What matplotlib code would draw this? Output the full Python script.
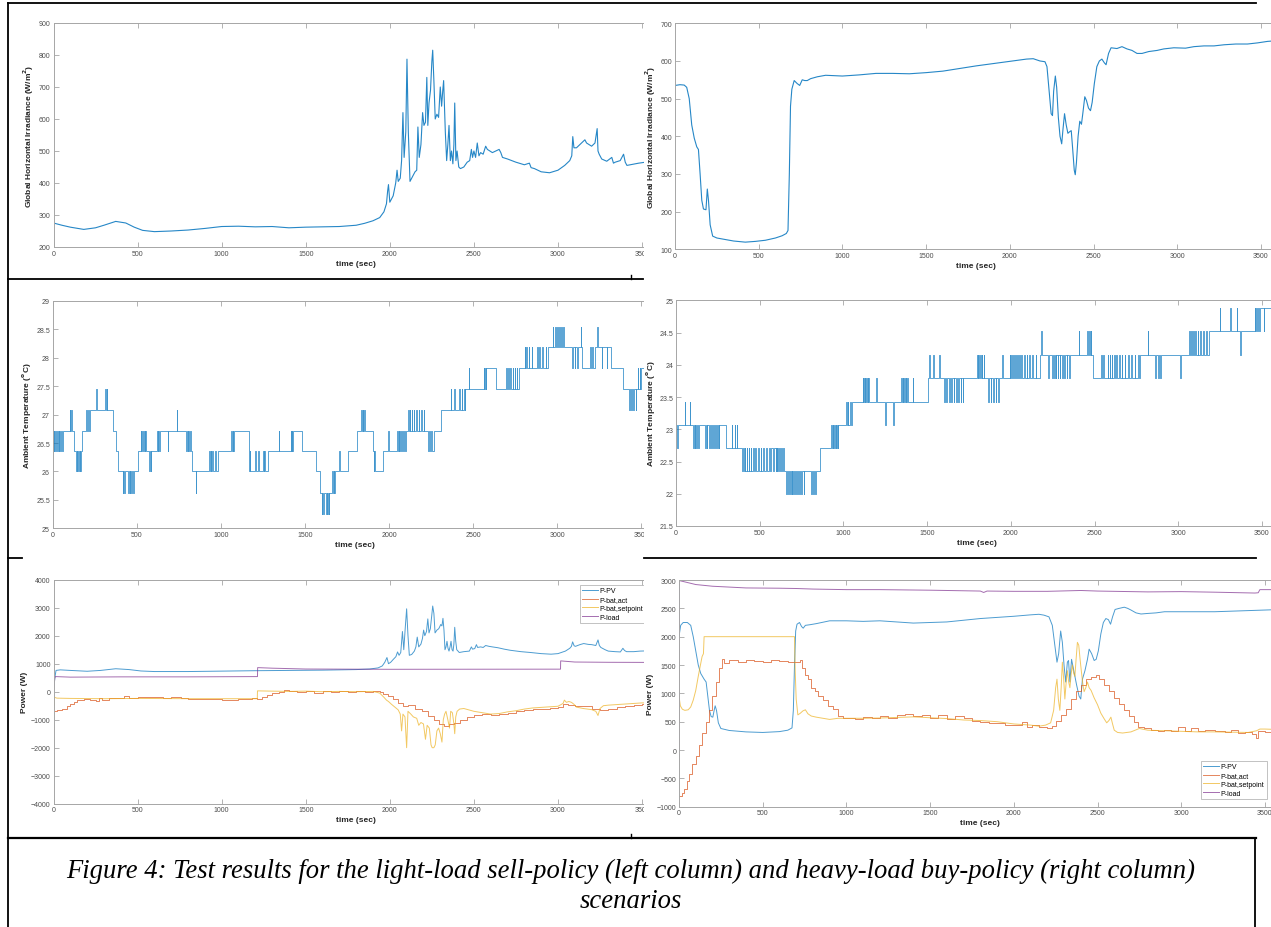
import matplotlib
matplotlib.use("Agg")
import matplotlib.pyplot as plt
from matplotlib.patches import Rectangle
from matplotlib.lines import Line2D
from matplotlib.ticker import StrMethodFormatter

# ---- data: (time s, value) ----
irr_left = [(0, 275), (50, 268), (100, 262), (180, 255), (250, 260), (300, 268), (370, 280), (430, 275),
            (480, 262), (530, 252), (600, 248), (700, 250), (800, 253), (900, 258), (1000, 264), (1100, 265),
            (1200, 263), (1300, 264), (1400, 260), (1500, 262), (1600, 263), (1700, 264), (1800, 268),
            (1850, 274), (1900, 282), (1940, 292), (1965, 310), (1980, 335), (1987, 375), (1992, 395),
            (2000, 340), (2020, 360), (2035, 400), (2043, 440), (2050, 405), (2062, 415), (2070, 470),
            (2078, 620), (2085, 480), (2095, 560), (2102, 787), (2110, 560), (2120, 405), (2135, 420),
            (2150, 435), (2160, 440), (2167, 575), (2175, 480), (2185, 520), (2195, 620), (2203, 580),
            (2212, 590), (2220, 730), (2226, 580), (2233, 650), (2242, 690), (2250, 780), (2255, 815),
            (2262, 720), (2270, 600), (2280, 615), (2290, 605), (2300, 700), (2308, 640), (2315, 690),
            (2320, 720), (2330, 560), (2338, 470), (2345, 520), (2352, 580), (2360, 470), (2367, 500),
            (2375, 460), (2381, 520), (2386, 650), (2393, 470), (2400, 500), (2410, 450), (2420, 445),
            (2440, 450), (2460, 465), (2475, 470), (2485, 505), (2492, 480), (2500, 500), (2510, 480),
            (2520, 525), (2530, 485), (2540, 495), (2555, 490), (2570, 515), (2580, 505), (2595, 500),
            (2610, 495), (2630, 500), (2650, 505), (2660, 495), (2670, 480), (2700, 475), (2750, 465),
            (2800, 457), (2830, 462), (2840, 448), (2860, 445), (2900, 435), (2950, 432), (3000, 440),
            (3040, 455), (3070, 470), (3082, 485), (3088, 545), (3095, 510), (3110, 510), (3140, 525),
            (3160, 535), (3170, 525), (3185, 520), (3200, 515), (3220, 525), (3233, 570), (3238, 500),
            (3245, 490), (3260, 475), (3290, 468), (3320, 480), (3330, 462), (3340, 465), (3370, 470),
            (3390, 490), (3400, 465), (3410, 455), (3440, 458), (3480, 462), (3520, 465), (3600, 468)]

irr_right = [(0, 535), (30, 537), (55, 536), (70, 530), (85, 500), (100, 430), (115, 395), (130, 372),
             (140, 365), (150, 300), (160, 230), (170, 207), (185, 205), (193, 260), (200, 230), (210, 165),
             (225, 135), (250, 130), (300, 126), (350, 122), (420, 119), (480, 121), (540, 124), (600, 130),
             (640, 136), (665, 142), (675, 150), (683, 300), (690, 480), (698, 525), (712, 548), (730, 540),
             (745, 535), (760, 550), (775, 548), (790, 548), (810, 553), (850, 558), (900, 562), (1000, 560),
             (1100, 563), (1200, 567), (1300, 567), (1400, 566), (1500, 569), (1600, 573), (1700, 580),
             (1800, 587), (1900, 593), (2000, 599), (2100, 605), (2140, 606), (2180, 600), (2210, 598),
             (2222, 585), (2235, 520), (2247, 460), (2255, 455), (2262, 520), (2272, 560), (2280, 530),
             (2290, 450), (2300, 400), (2310, 380), (2318, 420), (2327, 460), (2337, 430), (2347, 408),
             (2357, 412), (2367, 415), (2375, 370), (2385, 310), (2391, 298), (2398, 330), (2408, 400),
             (2418, 440), (2428, 432), (2436, 460), (2448, 505), (2458, 495), (2470, 475), (2482, 468),
             (2492, 490), (2505, 540), (2520, 585), (2535, 600), (2550, 605), (2565, 595), (2575, 590),
             (2590, 620), (2605, 635), (2640, 633), (2670, 638), (2700, 632), (2730, 628), (2760, 620),
             (2790, 620), (2830, 625), (2880, 628), (2920, 632), (2980, 635), (3050, 634), (3100, 638),
             (3160, 640), (3220, 640), (3280, 643), (3350, 645), (3420, 645), (3480, 648), (3540, 652),
             (3600, 654)]

# temperature: quantised sensor levels and (switch time, level index) pairs
temp_levels_left = [25.26, 25.63, 26.0, 26.36, 26.72, 27.09, 27.45, 27.82, 28.19, 28.55]
temp_left = [(0, 4), (5, 3), (10, 4), (14, 3), (20, 4), (24, 3), (30, 4), (36, 3), (40, 4), (45, 3), (50, 4),
             (55, 3), (60, 4), (100, 5), (104, 4), (108, 5), (112, 4), (125, 3), (140, 2), (143, 3), (147, 2),
             (152, 3), (156, 2), (160, 3), (165, 2), (168, 3), (175, 4), (200, 5), (203, 4), (210, 5), (214, 4),
             (222, 5), (258, 6), (261, 5), (312, 6), (316, 5), (320, 6), (324, 5), (356, 4), (378, 3), (390, 2),
             (418, 1), (421, 2), (425, 1), (429, 2), (450, 1), (453, 2), (458, 1), (462, 2), (468, 1), (472, 2),
             (478, 1), (482, 2), (505, 3), (525, 4), (528, 3), (532, 4), (537, 3), (541, 4), (546, 3), (550, 4),
             (554, 3), (574, 2), (578, 3), (582, 2), (586, 3), (620, 4), (624, 3), (628, 4), (632, 3), (636, 4),
             (684, 3), (687, 4), (738, 5), (741, 4), (795, 3), (799, 4), (803, 3), (807, 4), (811, 3), (815, 4),
             (820, 3), (830, 2), (850, 1), (853, 2), (930, 3), (934, 2), (940, 3), (944, 2), (950, 3), (955, 2),
             (965, 3), (970, 2), (985, 3), (1063, 4), (1066, 3), (1070, 4), (1073, 3), (1077, 4), (1165, 3),
             (1168, 2), (1171, 3), (1175, 2), (1204, 3), (1207, 2), (1222, 3), (1226, 2), (1250, 3), (1254, 2),
             (1258, 3), (1262, 2), (1283, 3), (1344, 4), (1347, 3), (1415, 4), (1418, 3), (1422, 4), (1425, 3),
             (1429, 4), (1485, 3), (1563, 2), (1588, 1), (1600, 0), (1604, 1), (1607, 0), (1611, 1), (1625, 0),
             (1629, 1), (1633, 0), (1637, 1), (1641, 0), (1645, 1), (1660, 2), (1664, 1), (1670, 2), (1674, 1),
             (1680, 2), (1704, 3), (1707, 2), (1758, 3), (1807, 4), (1836, 5), (1840, 4), (1844, 5), (1848, 4),
             (1852, 5), (1855, 4), (1905, 3), (1908, 2), (1912, 3), (1916, 2), (1966, 3), (1995, 4), (1998, 3),
             (2050, 4), (2054, 3), (2058, 4), (2062, 3), (2066, 4), (2072, 3), (2078, 4), (2084, 3), (2090, 4),
             (2095, 3), (2100, 4), (2112, 5), (2116, 4), (2122, 5), (2126, 4), (2134, 5), (2138, 4), (2146, 5),
             (2150, 4), (2162, 5), (2166, 4), (2176, 5), (2180, 4), (2192, 5), (2196, 4), (2206, 5), (2210, 4),
             (2234, 3), (2240, 4), (2246, 3), (2252, 4), (2258, 3), (2266, 4), (2307, 5), (2368, 6), (2371, 5),
             (2388, 6), (2392, 5), (2418, 6), (2422, 5), (2432, 6), (2436, 5), (2446, 6), (2450, 5), (2454, 6),
             (2473, 7), (2476, 6), (2563, 7), (2567, 6), (2571, 7), (2575, 6), (2579, 7), (2637, 6), (2698, 7),
             (2702, 6), (2708, 7), (2712, 6), (2720, 7), (2724, 6), (2735, 7), (2740, 6), (2748, 7), (2752, 6),
             (2760, 7), (2764, 6), (2771, 7), (2807, 8), (2811, 7), (2817, 8), (2821, 7), (2830, 8), (2834, 7),
             (2848, 8), (2852, 7), (2880, 8), (2884, 7), (2892, 8), (2896, 7), (2910, 8), (2914, 7), (2932, 8),
             (2936, 7), (2944, 8), (2973, 9), (2977, 8), (2990, 9), (2994, 8), (3000, 9), (3004, 8), (3010, 9),
             (3014, 8), (3022, 9), (3026, 8), (3034, 9), (3038, 8), (3090, 7), (3094, 8), (3104, 7), (3108, 8),
             (3120, 7), (3124, 8), (3141, 9), (3144, 8), (3149, 7), (3197, 8), (3201, 7), (3210, 8), (3214, 7),
             (3222, 8), (3239, 9), (3242, 8), (3265, 7), (3268, 8), (3295, 7), (3299, 8), (3318, 7), (3392, 6),
             (3429, 5), (3433, 6), (3440, 5), (3444, 6), (3452, 5), (3458, 6), (3466, 5), (3470, 6), (3478, 7),
             (3482, 6), (3490, 7), (3494, 6), (3500, 7), (3600, 7)]

temp_levels_right = [21.99, 22.35, 22.71, 23.07, 23.43, 23.79, 24.15, 24.52, 24.88]
temp_right = [(0, 3), (8, 2), (12, 3), (52, 4), (56, 3), (81, 4), (85, 3), (102, 2), (106, 3), (111, 2), (116, 3),
              (122, 2), (127, 3), (132, 2), (135, 3), (176, 2), (180, 3), (184, 2), (188, 3), (200, 2), (204, 3),
              (210, 2), (214, 3), (222, 2), (226, 3), (234, 2), (238, 3), (245, 2), (249, 3), (254, 2), (258, 3),
              (298, 2), (334, 3), (337, 2), (350, 3), (354, 2), (362, 3), (366, 2), (395, 1), (400, 2), (404, 1),
              (410, 2), (414, 1), (422, 2), (426, 1), (434, 2), (438, 1), (446, 2), (450, 1), (460, 2), (464, 1),
              (474, 2), (478, 1), (490, 2), (495, 1), (505, 2), (510, 1), (522, 2), (527, 1), (540, 2), (545, 1),
              (556, 2), (560, 1), (566, 2), (582, 1), (585, 2), (596, 1), (599, 2), (602, 1), (606, 2), (610, 1),
              (616, 2), (620, 1), (628, 2), (632, 1), (640, 2), (644, 1), (660, 0), (664, 1), (670, 0), (674, 1),
              (680, 0), (684, 1), (690, 0), (694, 1), (700, 0), (704, 1), (712, 0), (716, 1), (724, 0), (728, 1),
              (736, 0), (740, 1), (748, 0), (752, 1), (762, 0), (766, 1), (808, 0), (812, 1), (818, 0), (822, 1),
              (830, 0), (836, 1), (858, 2), (927, 3), (930, 2), (935, 3), (939, 2), (944, 3), (948, 2), (953, 3),
              (957, 2), (962, 3), (966, 2), (970, 3), (1017, 4), (1020, 3), (1026, 4), (1030, 3), (1040, 4),
              (1044, 3), (1052, 4), (1115, 5), (1119, 4), (1123, 5), (1127, 4), (1131, 5), (1135, 4), (1140, 5),
              (1144, 4), (1148, 5), (1151, 4), (1195, 5), (1198, 4), (1249, 3), (1253, 4), (1296, 3), (1300, 4),
              (1346, 5), (1350, 4), (1354, 5), (1358, 4), (1362, 5), (1366, 4), (1371, 5), (1375, 4), (1379, 5),
              (1383, 4), (1413, 5), (1417, 4), (1505, 5), (1514, 6), (1517, 5), (1537, 6), (1540, 5), (1572, 6),
              (1575, 5), (1602, 4), (1606, 5), (1614, 4), (1618, 5), (1630, 4), (1634, 5), (1644, 4), (1648, 5),
              (1658, 4), (1662, 5), (1672, 4), (1676, 5), (1686, 4), (1690, 5), (1700, 4), (1704, 5), (1712, 4),
              (1716, 5), (1798, 6), (1802, 5), (1806, 6), (1810, 5), (1816, 6), (1820, 5), (1826, 6), (1830, 5),
              (1838, 6), (1842, 5), (1866, 4), (1870, 5), (1880, 4), (1884, 5), (1894, 4), (1898, 5), (1910, 4),
              (1914, 5), (1925, 4), (1929, 5), (1949, 6), (1952, 5), (1993, 6), (1998, 5), (2004, 6), (2008, 5),
              (2014, 6), (2018, 5), (2026, 6), (2030, 5), (2038, 6), (2042, 5), (2050, 6), (2054, 5), (2062, 6),
              (2066, 5), (2078, 6), (2082, 5), (2094, 6), (2098, 5), (2110, 6), (2114, 5), (2128, 6), (2132, 5),
              (2148, 6), (2152, 5), (2175, 6), (2183, 7), (2186, 6), (2224, 5), (2227, 6), (2248, 5), (2252, 6),
              (2258, 5), (2262, 6), (2268, 5), (2272, 6), (2280, 5), (2284, 6), (2292, 5), (2296, 6), (2306, 5),
              (2310, 6), (2320, 5), (2324, 6), (2334, 5), (2338, 6), (2350, 5), (2354, 6), (2407, 7), (2410, 6),
              (2456, 7), (2459, 6), (2468, 7), (2471, 6), (2478, 7), (2481, 6), (2493, 5), (2540, 6), (2544, 5),
              (2552, 6), (2556, 5), (2578, 6), (2582, 5), (2590, 6), (2594, 5), (2602, 6), (2606, 5), (2616, 6),
              (2620, 5), (2630, 6), (2634, 5), (2646, 6), (2650, 5), (2662, 6), (2666, 5), (2680, 6), (2684, 5),
              (2700, 6), (2704, 5), (2718, 6), (2722, 5), (2740, 6), (2744, 5), (2760, 6), (2764, 5), (2773, 6),
              (2817, 7), (2820, 6), (2862, 5), (2866, 6), (2880, 5), (2884, 6), (2892, 5), (2896, 6), (3012, 5),
              (3015, 6), (3066, 7), (3070, 6), (3078, 7), (3082, 6), (3090, 7), (3094, 6), (3102, 7), (3106, 6),
              (3116, 7), (3120, 6), (3132, 7), (3136, 6), (3150, 7), (3154, 6), (3168, 7), (3172, 6), (3185, 7),
              (3249, 8), (3252, 7), (3310, 8), (3313, 7), (3351, 8), (3354, 7), (3370, 6), (3373, 7), (3456, 8),
              (3460, 7), (3466, 8), (3470, 7), (3476, 8), (3480, 7), (3486, 8), (3512, 7), (3515, 8), (3600, 8)]

# power, light-load sell-policy
pv_left = [(0, 0), (8, 500), (15, 760), (40, 780), (100, 760), (200, 730), (280, 760), (370, 820), (450, 790),
           (520, 740), (600, 720), (800, 720), (1000, 735), (1200, 750), (1400, 760), (1600, 770), (1800, 790),
           (1880, 810), (1930, 850), (1955, 920), (1970, 1050), (1983, 1220), (1992, 1000), (2005, 1050),
           (2020, 1150), (2036, 1250), (2046, 1420), (2055, 1300), (2065, 1400), (2075, 2150), (2083, 1500),
           (2092, 2300), (2100, 2960), (2108, 2000), (2116, 1300), (2130, 1330), (2146, 1450), (2155, 1600),
           (2163, 1950), (2172, 1600), (2185, 1700), (2194, 1900), (2201, 2200), (2208, 2000), (2218, 2150),
           (2226, 2600), (2233, 2100), (2241, 2250), (2249, 2700), (2255, 3060), (2262, 2800), (2269, 2100),
           (2280, 2200), (2291, 2250), (2303, 2400), (2310, 2350), (2316, 2620), (2322, 2200), (2328, 1500),
           (2334, 1600), (2340, 1800), (2346, 1550), (2352, 1450), (2358, 1600), (2364, 1800), (2370, 1500),
           (2376, 1450), (2381, 1700), (2386, 2300), (2392, 1800), (2398, 1500), (2413, 1400), (2440, 1430),
           (2473, 1450), (2485, 1600), (2492, 1520), (2505, 1540), (2515, 1680), (2522, 1580), (2540, 1600),
           (2555, 1580), (2570, 1650), (2590, 1620), (2610, 1600), (2643, 1570), (2680, 1520), (2716, 1480),
           (2780, 1430), (2837, 1400), (2900, 1360), (2959, 1340), (3000, 1360), (3044, 1450), (3070, 1550),
           (3080, 1620), (3087, 1780), (3096, 1640), (3104, 1620), (3130, 1680), (3153, 1720), (3180, 1690),
           (3201, 1680), (3225, 1650), (3238, 1850), (3246, 1650), (3255, 1580), (3280, 1500), (3299, 1450),
           (3340, 1430), (3371, 1420), (3386, 1550), (3396, 1470), (3408, 1430), (3450, 1430), (3488, 1450),
           (3540, 1460), (3600, 1470)]
act_left = [(0, -700), (20, -660), (50, -600), (80, -520), (100, -440), (120, -350), (140, -290), (180, -260),
            (220, -280), (250, -320), (270, -220), (290, -290), (330, -240), (380, -220), (420, -160), (450, -210),
            (500, -180), (560, -200), (600, -180), (650, -230), (700, -180), (760, -220), (800, -250), (900, -260),
            (1000, -280), (1100, -250), (1180, -220), (1213, -260), (1240, -180), (1270, -120), (1300, -60),
            (1340, -20), (1370, 50), (1400, 20), (1450, -20), (1500, 10), (1550, -30), (1600, 40), (1650, -20),
            (1700, 10), (1750, -10), (1800, 20), (1850, -20), (1900, 10), (1940, -20), (1960, -80), (1990, -150),
            (2020, -250), (2050, -400), (2080, -500), (2110, -480), (2150, -600), (2190, -700), (2230, -850),
            (2260, -1000), (2290, -1150), (2320, -1220), (2350, -1150), (2380, -1100), (2420, -1000),
            (2460, -900), (2500, -820), (2550, -780), (2600, -820), (2650, -790), (2700, -760), (2750, -700),
            (2800, -650), (2850, -620), (2900, -620), (2950, -580), (3000, -560), (3030, -450), (3060, -480),
            (3100, -500), (3150, -520), (3200, -600), (3250, -640), (3300, -600), (3350, -560), (3400, -500),
            (3450, -470), (3500, -450), (3600, -430)]
set_left = [(0, -100), (3, -500), (6, -200), (20, -230), (100, -240), (300, -250), (500, -240), (800, -250),
            (1000, -250), (1212, -250), (1213, 30), (1300, 20), (1400, 10), (1500, 20), (1600, 0), (1700, 10),
            (1800, 0), (1900, 10), (1940, -50), (1965, -200), (1980, -300), (1992, -350), (2010, -450),
            (2030, -550), (2050, -650), (2062, -800), (2070, -1400), (2078, -800), (2090, -900), (2100, -2000),
            (2108, -700), (2125, -800), (2140, -900), (2160, -950), (2172, -1200), (2185, -1100), (2200, -1150),
            (2212, -1700), (2222, -1200), (2235, -1300), (2245, -1900), (2252, -2000), (2262, -2000),
            (2270, -1900), (2280, -1400), (2290, -1300), (2300, -1500), (2310, -1800), (2318, -1000),
            (2326, -800), (2334, -700), (2345, -1000), (2355, -1300), (2362, -700), (2372, -750), (2380, -1100),
            (2386, -1500), (2392, -900), (2400, -700), (2415, -620), (2440, -600), (2470, -650), (2500, -700),
            (2550, -750), (2600, -800), (2650, -780), (2700, -720), (2750, -680), (2800, -620), (2850, -580),
            (2900, -560), (2950, -540), (3000, -520), (3030, -420), (3038, -300), (3050, -380), (3065, -350),
            (3080, -380), (3095, -450), (3110, -550), (3150, -600), (3200, -640), (3225, -700), (3238, -850),
            (3250, -600), (3270, -500), (3300, -480), (3350, -460), (3400, -440), (3450, -420), (3500, -400),
            (3600, -400)]
load_left = [(0, 0), (8, 500), (12, 540), (100, 520), (400, 530), (800, 530), (1213, 540), (1214, 860),
             (1300, 840), (1500, 810), (2000, 800), (3015, 805), (3016, 1100), (3100, 1060), (3300, 1050),
             (3600, 1045)]

# power, heavy-load buy-policy
pv_right = [(0, 2000), (10, 2200), (25, 2250), (50, 2250), (70, 2200), (85, 2000), (100, 1750), (115, 1500),
            (130, 1350), (150, 1250), (162, 1200), (172, 950), (182, 700), (192, 590), (202, 580), (210, 700),
            (216, 780), (224, 700), (235, 480), (250, 380), (300, 345), (400, 320), (500, 310), (600, 325),
            (650, 350), (675, 390), (683, 700), (690, 1500), (697, 2100), (705, 2220), (720, 2250), (732, 2180),
            (742, 2150), (755, 2200), (780, 2210), (820, 2230), (900, 2280), (1000, 2280), (1100, 2270),
            (1200, 2280), (1300, 2260), (1400, 2240), (1500, 2250), (1600, 2260), (1700, 2290), (1800, 2320),
            (1900, 2340), (2000, 2360), (2100, 2385), (2150, 2395), (2180, 2380), (2210, 2350), (2230, 2200),
            (2245, 1850), (2258, 1550), (2268, 1700), (2280, 2100), (2290, 1900), (2300, 1500), (2310, 1200),
            (2320, 1550), (2327, 1580), (2335, 1200), (2345, 1600), (2355, 1450), (2365, 1300), (2375, 1150),
            (2390, 950), (2400, 900), (2410, 1250), (2425, 1400), (2440, 1600), (2450, 1780), (2465, 1700),
            (2480, 1580), (2492, 1600), (2505, 1750), (2520, 2050), (2535, 2250), (2550, 2320), (2565, 2300),
            (2578, 2220), (2590, 2350), (2605, 2480), (2630, 2500), (2660, 2520), (2680, 2500), (2700, 2470),
            (2730, 2420), (2760, 2400), (2800, 2410), (2850, 2420), (2900, 2440), (3000, 2440), (3100, 2440),
            (3200, 2440), (3300, 2450), (3400, 2460), (3500, 2470), (3600, 2480)]
act_right = [(0, -820), (15, -750), (30, -680), (45, -550), (60, -420), (80, -250), (100, -100), (120, 80),
             (140, 300), (160, 500), (180, 700), (200, 950), (220, 1200), (240, 1450), (255, 1600), (270, 1540),
             (300, 1580), (350, 1560), (400, 1590), (450, 1570), (500, 1560), (550, 1590), (600, 1570),
             (650, 1560), (700, 1550), (720, 1590), (735, 1450), (750, 1320), (770, 1250), (790, 1100),
             (810, 1050), (830, 960), (860, 880), (890, 780), (920, 720), (950, 600), (980, 560), (1000, 570),
             (1050, 550), (1100, 580), (1150, 560), (1200, 600), (1250, 570), (1300, 610), (1350, 640),
             (1400, 600), (1450, 620), (1500, 560), (1550, 620), (1600, 540), (1650, 600), (1700, 560),
             (1750, 520), (1800, 500), (1850, 480), (1900, 470), (1950, 450), (2000, 450), (2050, 490),
             (2080, 400), (2110, 440), (2150, 400), (2200, 380), (2230, 420), (2250, 520), (2280, 620),
             (2310, 720), (2340, 900), (2370, 1050), (2400, 1150), (2430, 1250), (2460, 1280), (2490, 1330),
             (2510, 1250), (2540, 1150), (2570, 1050), (2600, 920), (2630, 820), (2660, 700), (2690, 600),
             (2720, 500), (2740, 400), (2780, 380), (2820, 360), (2860, 340), (2900, 360), (2940, 340),
             (2980, 400), (3020, 330), (3060, 380), (3100, 330), (3140, 360), (3200, 340), (3260, 320),
             (3300, 350), (3340, 300), (3380, 320), (3420, 280), (3445, 220), (3460, 330), (3500, 320),
             (3550, 300), (3600, 300)]
set_right = [(0, 950), (8, 780), (20, 720), (35, 700), (55, 710), (70, 760), (85, 880), (100, 1050), (115, 1300),
             (128, 1500), (138, 1650), (146, 1700), (150, 2000), (300, 2000), (500, 2000), (690, 2000),
             (694, 1400), (700, 900), (710, 620), (725, 650), (740, 690), (755, 710), (770, 640), (790, 600),
             (820, 580), (860, 560), (900, 540), (950, 560), (1000, 560), (1100, 560), (1200, 565), (1300, 575),
             (1400, 585), (1500, 570), (1600, 555), (1700, 530), (1800, 520), (1900, 500), (2000, 460),
             (2100, 440), (2150, 420), (2190, 440), (2220, 480), (2238, 700), (2250, 1100), (2258, 1250),
             (2266, 900), (2275, 700), (2283, 1100), (2290, 1550), (2298, 1250), (2305, 900), (2313, 1200),
             (2320, 1400), (2328, 1200), (2335, 1100), (2343, 1350), (2350, 1500), (2358, 1350), (2365, 1300),
             (2372, 1600), (2380, 1900), (2388, 1850), (2396, 1600), (2405, 1350), (2413, 1150), (2420, 1030),
             (2430, 1100), (2440, 1200), (2450, 1100), (2462, 1050), (2480, 920), (2500, 800), (2520, 650),
             (2540, 550), (2555, 480), (2568, 520), (2580, 580), (2590, 460), (2600, 350), (2620, 310),
             (2650, 300), (2700, 320), (2750, 380), (2800, 350), (2900, 340), (3000, 330), (3100, 320),
             (3200, 320), (3300, 315), (3400, 310), (3450, 340), (3470, 370), (3500, 370), (3600, 360)]
load_right = [(0, 0), (1, 2990), (30, 2970), (100, 2920), (200, 2890), (300, 2875), (400, 2860), (600, 2855),
              (700, 2850), (800, 2840), (1000, 2830), (1200, 2830), (1500, 2820), (1800, 2805), (1820, 2780),
              (1840, 2805), (2000, 2800), (2200, 2800), (2400, 2815), (2500, 2805), (2800, 2790), (3000, 2795),
              (3200, 2785), (3440, 2770), (3460, 2775), (3470, 2830), (3600, 2830)]

legend_labels = ["P-PV", "P-bat,act", "P-bat,setpoint", "P-load"]
caption_1 = ("Figure 4: Test results for the light-load sell-policy (left column) "
             "and heavy-load buy-policy (right column)")
caption_2 = "scenarios"

# ---- figure ----
W, H = 1271, 928
plt.rcParams['font.family'] = ['Liberation Sans', 'DejaVu Sans']
fig = plt.figure(figsize=(W / 100, H / 100), dpi=100)

BLUE, ORANGE, YELLOW, PURPLE = '#0072BD', '#D95319', '#EDB120', '#7E2F8E'
GRID = '#a6a6a6'


def box(l, t, r, b):
    # pixel box -> figure fraction rect
    return [l / W, 1 - b / H, (r - l) / W, (b - t) / H]


def unzip(pairs):
    return [p[0] for p in pairs], [p[1] for p in pairs]


def style(ax, ylim, yticks, ylabel):
    ax.set_xlim(0, 3600)
    ax.set_xticks(range(0, 3600, 500))
    ax.set_ylim(*ylim)
    ax.set_yticks(yticks)
    ax.yaxis.set_major_formatter(StrMethodFormatter('{x:g}'))
    ax.tick_params(direction='in', top=True, right=True, length=3.5, width=0.6,
                   color=GRID, labelcolor='#4d4d4d', labelsize=5, pad=2)
    for s in ax.spines.values():
        s.set_color(GRID)
        s.set_linewidth(0.7)
    ax.set_xlabel('time (sec)', fontsize=6, fontweight='bold', color='#262626', labelpad=2)
    ax.set_ylabel(ylabel, fontsize=6, fontweight='bold', color='#262626', labelpad=2)


px_l = 84.08 * 7.2   # 3600 s in pixels, left column
px_r = 83.7 * 7.2    # right column

ax_tl = fig.add_axes(box(53.5, 24, 53.5 + px_l, 248), zorder=0)
ax_tr = fig.add_axes(box(675, 24.3, 675 + px_r, 250.3), zorder=2)
ax_ml = fig.add_axes(box(52.7, 302, 52.7 + px_l, 529.3), zorder=0)
ax_mr = fig.add_axes(box(676, 301.3, 676 + px_r, 527), zorder=2)
ax_bl = fig.add_axes(box(53.5, 580.7, 53.5 + px_l, 804.7), zorder=0)
ax_br = fig.add_axes(box(679, 581, 679 + px_r, 807.7), zorder=2)

irr_label = 'Global Horizontal Irradiance (W/m$^\\mathbf{2}$)'
temp_label = 'Ambient Temperature ($^\\mathbf{o}$C)'

# irradiance
for ax, data, ylim in [(ax_tl, irr_left, (200, 900)), (ax_tr, irr_right, (100, 700))]:
    t, v = unzip(data)
    ax.plot(t, v, color=BLUE, lw=0.8, alpha=0.85)
    style(ax, ylim, range(ylim[0], ylim[1] + 1, 100), irr_label)

# temperature
for ax, data, levels, ylim, ticks in [
        (ax_ml, temp_left, temp_levels_left, (25, 29), [25, 25.5, 26, 26.5, 27, 27.5, 28, 28.5, 29]),
        (ax_mr, temp_right, temp_levels_right, (21.5, 25), [21.5, 22, 22.5, 23, 23.5, 24, 24.5, 25])]:
    t, k = unzip(data)
    ax.step(t, [levels[i] for i in k], where='post', color=BLUE, lw=0.6, alpha=0.75)
    style(ax, ylim, ticks, temp_label)

# power
for ax, series, ylim, ticks in [
        (ax_bl, [pv_left, act_left, set_left, load_left], (-4000, 4000), range(-4000, 4001, 1000)),
        (ax_br, [pv_right, act_right, set_right, load_right], (-1000, 3000), range(-1000, 3001, 500))]:
    for data, col, lbl in zip(series, [BLUE, ORANGE, YELLOW, PURPLE], legend_labels):
        t, v = unzip(data)
        ds = 'steps-post' if lbl == 'P-bat,act' else 'default'
        ax.plot(t, v, color=col, lw=0.7, alpha=0.7, drawstyle=ds, label=lbl)
    style(ax, ylim, ticks, 'Power (W)')

leg_kw = dict(fontsize=5, frameon=True, fancybox=False, edgecolor=GRID, handlelength=2.2,
              handletextpad=0.3, borderpad=0.35, labelspacing=0.25, borderaxespad=0)
leg = ax_bl.legend(loc='upper right', bbox_to_anchor=(646 / W, 1 - 586 / H),
                   bbox_transform=fig.transFigure, **leg_kw)
leg.get_frame().set_linewidth(0.6)
leg = ax_br.legend(loc='lower right', bbox_to_anchor=(1267 / W, 1 - 800 / H),
                   bbox_transform=fig.transFigure, **leg_kw)
leg.get_frame().set_linewidth(0.6)

# white strip: left-column images are cropped where the right column starts
fig.add_artist(Rectangle((643.5 / W, 1 - 839 / H), 31 / W, 839 / H, transform=fig.transFigure,
                         facecolor='white', edgecolor='none', zorder=1))


# table borders
def hline(y, x0, x1, lw=1.3):
    fig.add_artist(Line2D([x0 / W, x1 / W], [1 - y / H, 1 - y / H], transform=fig.transFigure,
                          color='black', lw=lw, zorder=5))


def vline(x, y0, y1, lw=1.3):
    fig.add_artist(Line2D([x / W, x / W], [1 - y0 / H, 1 - y1 / H], transform=fig.transFigure,
                          color='black', lw=lw, zorder=5))


hline(4, 8, 1256)
hline(280, 8, 643)
hline(559, 8, 22)
hline(559, 644, 1256)
hline(839, 8, 1256, lw=1.6)
vline(8, 4, 928)
vline(1255, 839, 928)
vline(631, 276, 280, lw=1)
vline(631, 835, 839, lw=1)

fig.text(631 / W, 1 - 871 / H, caption_1, ha='center', va='center', fontsize=19.2,
         family=['Liberation Serif', 'DejaVu Serif'], style='italic')
fig.text(631 / W, 1 - 902 / H, caption_2, ha='center', va='center', fontsize=19.2,
         family=['Liberation Serif', 'DejaVu Serif'], style='italic')

fig.savefig('out.png', dpi=100)
